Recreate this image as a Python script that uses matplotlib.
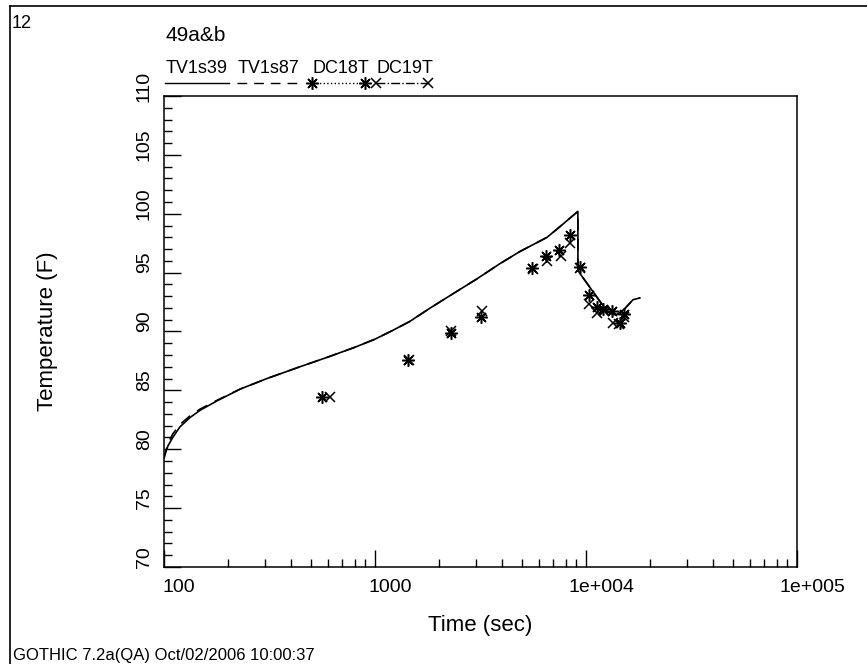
import numpy as np
import matplotlib
matplotlib.use('Agg')
import matplotlib.pyplot as plt
from matplotlib.lines import Line2D
import matplotlib.transforms as mtransforms

plt.rcParams['font.family'] = ['Liberation Sans', 'DejaVu Sans']

# ---------------- data ----------------
t39 = [100, 104.5, 110, 119, 133, 148, 178, 229, 307, 440, 592, 800, 1000, 1200, 1460,
       1810, 2268, 3030, 3900, 4870, 6540, 7520, 9150, 9160, 9300, 12600, 13500,
       14000, 15200, 16700, 18000]
T39 = [79.4, 80.3, 81.0, 81.9, 82.7, 83.3, 84.1, 85.1, 86.0, 87.0, 87.8, 88.65, 89.35, 90.05, 90.85,
       91.95, 93.05, 94.45, 95.75, 96.8, 98.0, 98.9, 100.2, 95.3, 95.0, 91.7, 91.45,
       91.45, 91.9, 92.7, 92.85]

t87 = [100, 104.5, 110, 119, 133, 148, 178, 229, 307, 440, 592, 800, 1000, 1200, 1460,
       1810, 2268, 3030, 3900, 4870, 6540, 7520, 9150, 9160, 9300, 12600, 13500,
       14000, 15200, 16700, 18000]
T87 = [79.2, 80.5, 81.3, 82.1, 82.85, 83.4, 84.15, 85.1, 86.0, 87.0, 87.8, 88.65, 89.35, 90.05, 90.85,
       91.95, 93.05, 94.45, 95.75, 96.8, 98.0, 98.9, 100.2, 95.3, 95.0, 91.7, 91.45,
       91.45, 91.9, 92.7, 92.85]

t18 = [560, 1430, 2290, 3180, 5550, 6460, 7450, 8400, 9370, 10330, 11270, 12040,
       13280, 14500, 15140]
T18 = [84.4, 87.6, 89.9, 91.2, 95.4, 96.4, 96.9, 98.2, 95.5, 93.1, 92.1, 91.9,
       91.7, 90.7, 91.5]

t19 = [612, 1450, 2300, 3230, 5600, 6530, 7600, 8400, 9400, 10330, 11270, 12200,
       13470, 14300, 15140]
T19 = [84.4, 87.6, 90.0, 91.7, 95.3, 96.0, 96.4, 97.5, 95.4, 92.3, 91.6, 91.7,
       90.7, 90.6, 91.2]

xtick_vals = [100, 1000, 10000, 100000]
xtick_labels = ['100', '1000', '1e+004', '1e+005']
ytick_vals = [70, 75, 80, 85, 90, 95, 100, 105, 110]
ytick_labels = [str(v) for v in ytick_vals]

series_names = ['TV1s39', 'TV1s87', 'DC18T', 'DC19T']

# ---------------- figure ----------------
W, H = 867, 664
fig = plt.figure(figsize=(W / 100, H / 100), dpi=100)
ax_l, ax_r, ax_t, ax_b = 164, 797, 96, 567
ax = fig.add_axes([ax_l / W, (H - ax_b) / H, (ax_r - ax_l) / W, (ax_b - ax_t) / H])

star = (8, 2, 0)
ax.plot(t39, T39, color='black', lw=1.2)
ax.plot(t87, T87, color='black', lw=1.2, ls=(0, (7, 5)))
ax.plot(t18, T18, ls='none', marker=star, ms=9, mew=1.1, color='black')
ax.plot(t19, T19, ls='none', marker='x', ms=6.5, mew=1.1, color='black')

ax.set_xscale('log')
ax.set_xlim(100, 100000)
ax.set_ylim(70, 110)

ax.set_xticks(xtick_vals)
ax.set_xticklabels(xtick_labels)
ax.xaxis.set_minor_locator(matplotlib.ticker.LogLocator(base=10, subs=np.arange(2, 10)))
ax.xaxis.set_minor_formatter(matplotlib.ticker.NullFormatter())
ax.set_yticks(ytick_vals)
ax.set_yticklabels(ytick_labels, rotation=90, va='center')
ax.yaxis.set_minor_locator(matplotlib.ticker.MultipleLocator(1))

ax.tick_params(which='major', direction='in', length=12, width=1.0, labelsize=14,
               top=False, right=False)
ax.tick_params(which='minor', direction='in', length=6, width=1.0,
               top=False, right=False)
ax.tick_params(axis='x', pad=9)
ax.tick_params(axis='y', pad=8)
for s in ax.spines.values():
    s.set_linewidth(1.1)

offx = mtransforms.ScaledTranslation(15 / 100, 0, fig.dpi_scale_trans)
for lbl in ax.get_xticklabels():
    lbl.set_transform(lbl.get_transform() + offx)
offy = mtransforms.ScaledTranslation(0, 10 / 100, fig.dpi_scale_trans)
for lbl in ax.get_yticklabels():
    lbl.set_transform(lbl.get_transform() + offy)

ax.set_xlabel('Time (sec)', fontsize=16)
ax.xaxis.set_label_coords(480 / W, 1 - 615 / H, transform=fig.transFigure)
ax.set_ylabel('Temperature (F)', fontsize=16)
ax.yaxis.set_label_coords(58 / W, 1 - 331 / H, transform=fig.transFigure)

# ---------------- texts & frame ----------------
def fx(px):
    return px / W

def fy(py):
    return 1 - py / H

fig.add_artist(Line2D([fx(10), fx(10)], [0, fy(6)], color='black', lw=1.2))
fig.add_artist(Line2D([fx(10), 1], [fy(6), fy(6)], color='black', lw=1.2))

fig.text(fx(12), fy(28), '12', fontsize=13, va='baseline')
fig.text(fx(165), fy(41), '49a&b', fontsize=15, va='baseline')
fig.text(fx(13), fy(660), 'GOTHIC 7.2a(QA) Oct/02/2006 10:00:37', fontsize=12, va='baseline')

leg_x = [(165, 229), (237, 300), (312, 365), (376, 428)]
leg_styles = [dict(ls='-'), dict(ls=(0, (7, 5))), dict(ls=':'), dict(ls='-.')]
leg_marks = [None, None, star, 'x']
for name, (x0, x1), st, mk in zip(series_names, leg_x, leg_styles, leg_marks):
    fig.text(fx(x0 + 1), fy(73), name, fontsize=13, va='baseline')
    fig.add_artist(Line2D([fx(x0), fx(x1)], [fy(83), fy(83)], color='black', lw=1.0, **st))
    if mk is not None:
        fig.add_artist(Line2D([fx(x0), fx(x1)], [fy(83), fy(83)], ls='none', marker=mk,
                              ms=9 if mk == star else 6.5, mew=1.1, color='black'))

fig.savefig('out.png', dpi=100)
